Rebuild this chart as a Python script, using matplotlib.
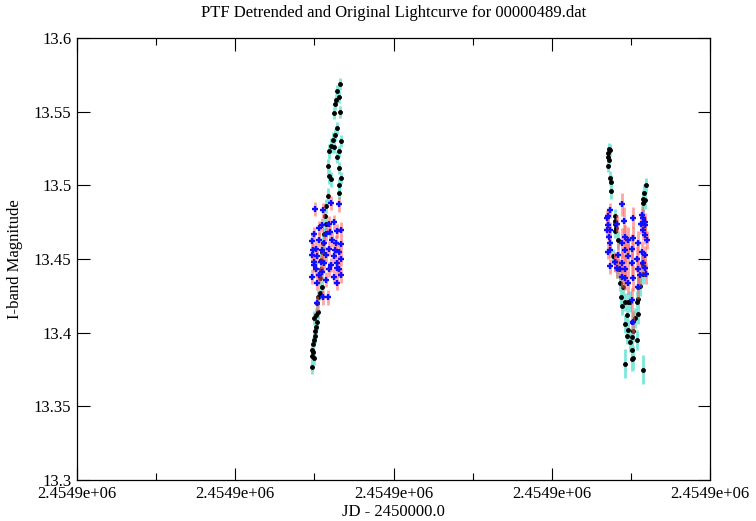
import matplotlib
matplotlib.use('Agg')
import matplotlib.pyplot as plt
from matplotlib.ticker import MultipleLocator, FormatStrFormatter

# original lightcurve (black points, cyan error bars)
orig_jd = [
    2454893.25, 2454892.80, 2454893.13, 2454892.71, 2454892.62, 2454892.54, 2454893.25,
    2454892.84, 2454892.62, 2454892.37, 2454893.34, 2454892.08, 2454892.49, 2454891.86,
    2454893.13, 2454892.92, 2454891.78, 2454893.05, 2454891.86, 2454892.08, 2454893.34,
    2454893.13, 2454891.66, 2454893.13, 2454891.44, 2454891.35, 2454891.44, 2454891.23,
    2454891.10, 2454891.02, 2454890.90, 2454890.81, 2454890.72, 2454890.93, 2454890.52,
    2454890.72, 2454890.39, 2454890.17, 2454890.30, 2454890.17, 2454890.05, 2454889.88,
    2454889.76, 2454889.88, 2454889.76, 2454889.92, 2454890.43, 2454890.05, 2454889.92,
    2454889.67, 2454889.92,
    2454927.23, 2454927.16, 2454927.36, 2454927.07, 2454927.23, 2454927.16, 2454927.36,
    2454927.45, 2454927.45, 2454931.88, 2454931.72, 2454931.47, 2454931.80, 2454931.59,
    2454927.99, 2454927.99, 2454928.08, 2454928.42, 2454927.79, 2454928.42, 2454928.63,
    2454931.38, 2454931.59, 2454930.96, 2454927.99, 2454927.99, 2454928.21, 2454929.06,
    2454928.75, 2454929.26, 2454928.84, 2454929.89, 2454930.96, 2454931.59, 2454931.16,
    2454929.69, 2454930.74, 2454929.48, 2454929.26, 2454930.11, 2454930.53, 2454930.96,
    2454929.69, 2454930.32, 2454930.11, 2454929.48, 2454930.74, 2454929.89, 2454930.11,
    2454930.32, 2454929.26, 2454931.50, 2454930.20,
]
orig_mag = [
    13.569, 13.564, 13.560, 13.558, 13.555, 13.549, 13.550,
    13.539, 13.534, 13.531, 13.530, 13.527, 13.526, 13.523,
    13.523, 13.519, 13.513, 13.512, 13.506, 13.504, 13.505,
    13.500, 13.493, 13.495, 13.486, 13.479, 13.474, 13.467,
    13.461, 13.455, 13.449, 13.443, 13.437, 13.431, 13.424,
    13.427, 13.420, 13.412, 13.407, 13.404, 13.401, 13.392,
    13.388, 13.387, 13.377, 13.410, 13.414, 13.398, 13.395,
    13.384, 13.383,
    13.525, 13.522, 13.524, 13.519, 13.517, 13.513, 13.505,
    13.502, 13.496, 13.500, 13.495, 13.491, 13.490, 13.488,
    13.479, 13.476, 13.471, 13.463, 13.452, 13.443, 13.434,
    13.447, 13.440, 13.431, 13.474, 13.469, 13.443, 13.431,
    13.424, 13.421, 13.418, 13.421, 13.423, 13.445, 13.432,
    13.421, 13.421, 13.412, 13.406, 13.407, 13.410, 13.413,
    13.402, 13.401, 13.397, 13.398, 13.395, 13.394, 13.388,
    13.383, 13.379, 13.375, 13.382,
]
orig_err = [
    0.004, 0.004, 0.004, 0.004, 0.004, 0.004, 0.004,
    0.004, 0.004, 0.005, 0.004, 0.005, 0.004, 0.005,
    0.004, 0.004, 0.005, 0.004, 0.005, 0.005, 0.004,
    0.005, 0.005, 0.004, 0.005, 0.005, 0.005, 0.005,
    0.005, 0.005, 0.005, 0.005, 0.005, 0.005, 0.005,
    0.005, 0.005, 0.005, 0.005, 0.005, 0.005, 0.005,
    0.005, 0.005, 0.005, 0.005, 0.005, 0.005, 0.005,
    0.005, 0.005,
    0.004, 0.004, 0.004, 0.004, 0.004, 0.004, 0.005,
    0.005, 0.005, 0.005, 0.006, 0.006, 0.006, 0.006,
    0.005, 0.005, 0.005, 0.006, 0.005, 0.006, 0.006,
    0.007, 0.007, 0.007, 0.005, 0.005, 0.006, 0.006,
    0.006, 0.006, 0.006, 0.007, 0.007, 0.007, 0.007,
    0.006, 0.007, 0.006, 0.006, 0.007, 0.007, 0.007,
    0.007, 0.007, 0.007, 0.006, 0.007, 0.007, 0.008,
    0.008, 0.010, 0.010, 0.008,
]

# detrended lightcurve (blue points, red error bars)
det_jd = [
    2454890.08, 2454892.08, 2454893.13, 2454891.02, 2454891.86, 2454892.49, 2454891.44,
    2454889.96, 2454892.92, 2454893.34, 2454889.76, 2454890.59, 2454891.23, 2454892.29,
    2454892.71, 2454893.34, 2454890.17, 2454891.02, 2454891.86, 2454893.13, 2454889.76,
    2454890.39, 2454891.44, 2454892.49, 2454893.34, 2454889.96, 2454891.23, 2454892.08,
    2454892.92, 2454890.17, 2454891.02, 2454891.86, 2454893.13, 2454889.76, 2454890.59,
    2454892.49, 2454893.34, 2454891.44, 2454890.39, 2454892.92, 2454890.39, 2454891.15,
    2454891.73, 2454889.92, 2454890.81, 2454892.58, 2454890.55, 2454891.95, 2454891.06,
    2454892.84, 2454889.79,
    2454927.36, 2454927.03, 2454928.93, 2454928.21, 2454929.18, 2454930.32, 2454931.38,
    2454931.59, 2454931.29, 2454931.80, 2454927.16, 2454927.36, 2454931.80, 2454931.59,
    2454931.80, 2454929.26, 2454929.69, 2454930.32, 2454928.84, 2454930.96, 2454927.36,
    2454929.26, 2454930.11, 2454931.38, 2454928.42, 2454929.69, 2454930.74, 2454931.80,
    2454927.99, 2454928.84, 2454930.11, 2454931.59, 2454928.21, 2454929.26, 2454930.96,
    2454931.80, 2454928.84, 2454930.32, 2454931.16, 2454929.69, 2454930.96, 2454927.07,
    2454926.94, 2454927.23, 2454927.36, 2454927.16, 2454927.36, 2454927.99, 2454928.63,
    2454929.26, 2454932.01, 2454931.88, 2454930.20, 2454930.32,
]
det_mag = [
    13.484, 13.488, 13.487, 13.473, 13.474, 13.475, 13.467,
    13.467, 13.469, 13.470, 13.462, 13.463, 13.461, 13.463,
    13.461, 13.460, 13.457, 13.456, 13.457, 13.455, 13.453,
    13.452, 13.453, 13.452, 13.450, 13.448, 13.447, 13.446,
    13.447, 13.443, 13.441, 13.443, 13.443, 13.438, 13.439,
    13.438, 13.439, 13.436, 13.434, 13.434, 13.420, 13.424,
    13.424, 13.446, 13.448, 13.456, 13.471, 13.468, 13.483,
    13.444, 13.456,
    13.483, 13.478, 13.487, 13.474, 13.476, 13.478, 13.480,
    13.478, 13.474, 13.475, 13.473, 13.470, 13.473, 13.470,
    13.466, 13.465, 13.463, 13.464, 13.461, 13.461, 13.456,
    13.456, 13.457, 13.455, 13.453, 13.452, 13.450, 13.453,
    13.448, 13.447, 13.447, 13.447, 13.444, 13.443, 13.443,
    13.444, 13.438, 13.437, 13.439, 13.434, 13.431, 13.479,
    13.470, 13.465, 13.461, 13.455, 13.445, 13.448, 13.443,
    13.437, 13.463, 13.440, 13.422, 13.407,
]
det_err = [
    0.005, 0.005, 0.005, 0.005, 0.005, 0.005, 0.005,
    0.005, 0.005, 0.005, 0.005, 0.005, 0.005, 0.005,
    0.005, 0.005, 0.005, 0.005, 0.005, 0.005, 0.005,
    0.005, 0.005, 0.005, 0.005, 0.005, 0.005, 0.005,
    0.005, 0.005, 0.005, 0.005, 0.005, 0.005, 0.005,
    0.005, 0.005, 0.005, 0.005, 0.005, 0.005, 0.005,
    0.005, 0.005, 0.005, 0.005, 0.005, 0.005, 0.005,
    0.005, 0.005,
    0.005, 0.005, 0.008, 0.006, 0.009, 0.007, 0.006,
    0.006, 0.007, 0.006, 0.005, 0.005, 0.006, 0.007,
    0.006, 0.008, 0.009, 0.008, 0.010, 0.008, 0.005,
    0.009, 0.010, 0.007, 0.008, 0.010, 0.009, 0.006,
    0.007, 0.010, 0.009, 0.008, 0.007, 0.010, 0.009,
    0.006, 0.008, 0.009, 0.008, 0.008, 0.008, 0.005,
    0.005, 0.005, 0.005, 0.005, 0.005, 0.006, 0.007,
    0.008, 0.006, 0.007, 0.008, 0.008,
]

plt.rcParams['font.family'] = ['Liberation Serif', 'DejaVu Serif']
plt.rcParams['font.size'] = 12

fig = plt.figure(figsize=(7.56, 5.21), dpi=100)
ax = fig.add_axes([77 / 756, 41 / 521, 633 / 756, 442 / 521])

ax.errorbar(orig_jd, orig_mag, yerr=orig_err, fmt='none', ecolor='#7de6d8',
            elinewidth=2, capsize=0, zorder=1)
ax.plot(orig_jd, orig_mag, 'o', color='black', ms=2.5, zorder=2)
ax.errorbar(det_jd, det_mag, yerr=det_err, fmt='none', ecolor='#ff5a5a',
            elinewidth=2, alpha=0.55, capsize=0, zorder=3)
ax.plot(det_jd, det_mag, '+', color='#1010ff', ms=4.5, mew=1.7, zorder=4)

ax.set_xlim(2454860, 2454940)
ax.set_ylim(13.3, 13.6)
ax.xaxis.set_major_locator(MultipleLocator(20))
ax.xaxis.set_minor_locator(MultipleLocator(10))
ax.xaxis.set_major_formatter(FormatStrFormatter('%.4e'))
ax.yaxis.set_major_locator(MultipleLocator(0.05))
ax.yaxis.set_major_formatter(FormatStrFormatter('%g'))
ax.tick_params(which='both', direction='in', top=True, right=True, color='black')
ax.tick_params(which='major', length=9, width=0.8, pad=4)
ax.tick_params(which='minor', length=5, width=0.8)
for s in ax.spines.values():
    s.set_linewidth(0.9)

ax.set_title('PTF Detrended and Original Lightcurve for 00000489.dat', fontsize=12, pad=15)
ax.set_xlabel('JD - 2450000.0', labelpad=2)
ax.set_ylabel('I-band Magnitude', labelpad=8)

fig.savefig('out.png', dpi=100)
